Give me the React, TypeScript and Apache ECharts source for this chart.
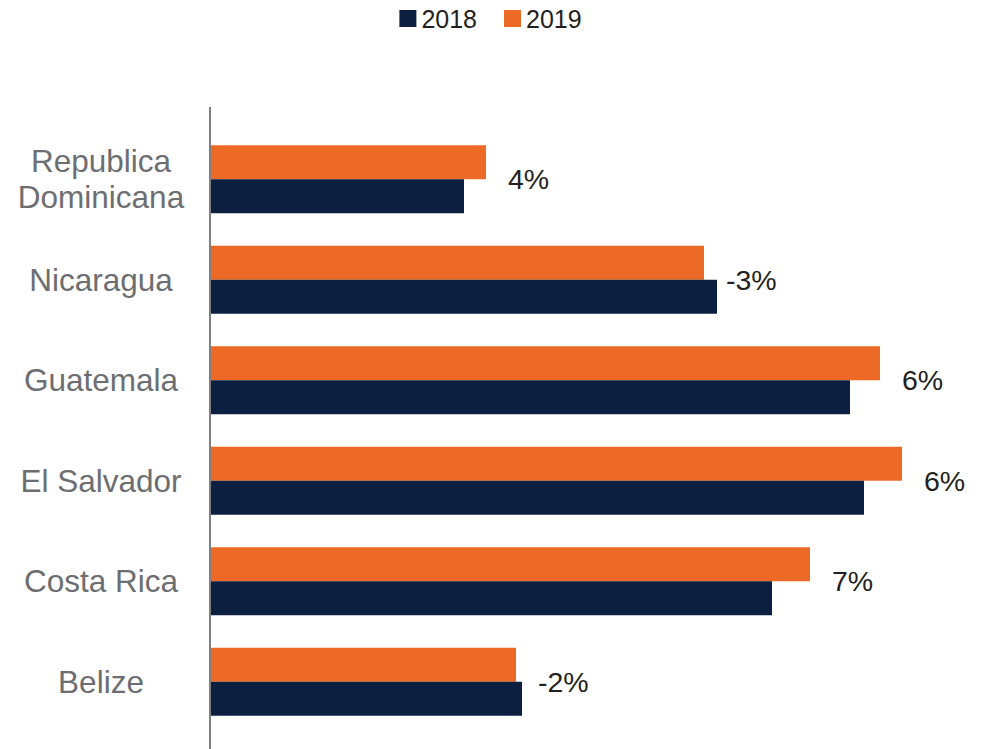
import React, { useEffect, useRef } from "react";
import * as echarts from "echarts";

const categories = ["Belize", "Costa Rica", "El Salvador", "Guatemala", "Nicaragua", "Republica\nDominicana"];
const values2018 = [624, 1124, 1308, 1280, 1014, 508];
const values2019 = [612, 1200, 1384, 1340, 988, 552];
const growthLabels = ["-2%", "7%", "6%", "6%", "-3%", "4%"];
const seriesNames = ["2018", "2019"];

const NAVY = "#0C1F40";
const ORANGE = "#EC6A25";
const FONT = "'Liberation Sans', Arial, Helvetica, sans-serif";

export default function App() {
  const ref = useRef<HTMLDivElement>(null);
  useEffect(() => {
    if (!ref.current) return;
    document.body.style.margin = "0";
    const chart = echarts.init(ref.current, undefined, { renderer: "svg" });
    chart.setOption({
      animation: false,
      legend: {
        data: seriesNames,
        left: "center",
        top: 1,
        itemWidth: 17,
        itemHeight: 17,
        itemGap: 27,
        icon: "rect",
        textStyle: { fontSize: 25, color: "#231f20", fontFamily: FONT },
      },
      grid: { left: 210, right: 21, top: 129, bottom: 17, containLabel: false },
      xAxis: { type: "value", min: 0, max: 1500, show: false },
      yAxis: {
        type: "category",
        data: categories,
        axisLine: { show: true, lineStyle: { color: "#808080", width: 2 } },
        axisTick: { show: false },
        splitLine: { show: false },
        axisLabel: {
          margin: 109,
          align: "center",
          fontSize: 31.5,
          lineHeight: 36,
          color: "#6d6e71",
          fontFamily: FONT,
        },
      },
      graphic: [
        {
          type: "line",
          shape: { x1: 210, y1: 107, x2: 210, y2: 749 },
          style: { stroke: "#808080", lineWidth: 2 },
          z: 10,
        },
      ],
      series: [
        {
          name: seriesNames[1],
          type: "bar",
          data: values2019,
          barWidth: 34,
          barGap: "0%",
          itemStyle: { color: ORANGE },
          label: {
            show: true,
            position: "right",
            distance: 22,
            offset: [0, 17],
            formatter: (p: any) => growthLabels[p.dataIndex],
            fontSize: 28.5,
            color: "#231f20",
            fontFamily: FONT,
          },
        },
        {
          name: seriesNames[0],
          type: "bar",
          data: values2018,
          barWidth: 34,
          barGap: "0%",
          itemStyle: { color: NAVY },
        },
      ],
    });
    return () => chart.dispose();
  }, []);
  return <div ref={ref} style={{ width: 981, height: 749 }} />;
}
